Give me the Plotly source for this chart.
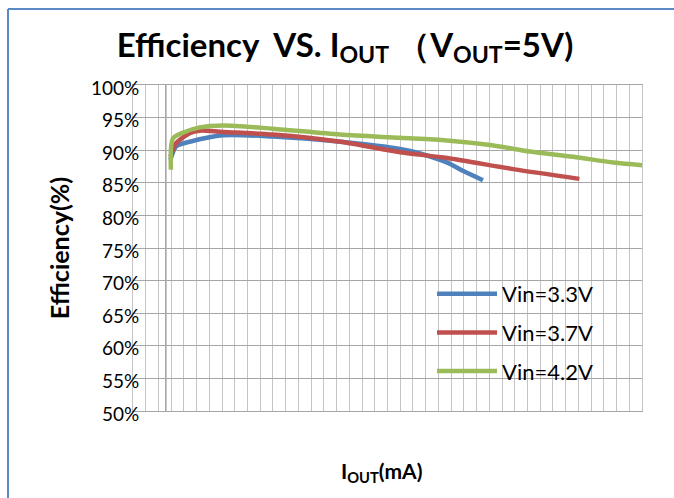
import plotly.graph_objects as go

# ---- data ----
series_names = ["Vin=3.3V", "Vin=3.7V", "Vin=4.2V"]
series_colors = ["#4F81BD", "#C0504D", "#9BBB59"]

iout_33 = [147, 170, 223, 354, 550, 815, 1050, 1128, 1235, 1298, 1375]
eff_33 = [88.5, 90.6, 91.3, 92.3, 92.1, 91.3, 90.2, 89.5, 88.1, 86.8, 85.4]

iout_37 = [147, 170, 223, 262, 354, 550, 815, 1050, 1235, 1494, 1754]
eff_37 = [89.0, 91.1, 92.6, 93.0, 92.8, 92.4, 91.3, 89.7, 88.8, 87.1, 85.6]

iout_42 = [149, 157, 197, 262, 354, 550, 813, 1049, 1233, 1403, 1560, 1730, 1888, 2000]
eff_42 = [87.0, 91.8, 92.7, 93.5, 93.8, 93.3, 92.4, 91.9, 91.5, 90.8, 89.8, 89.0, 88.1, 87.7]

y_ticks = [50, 55, 60, 65, 70, 75, 80, 85, 90, 95, 100]
y_ticklabels = [f"{v}%" for v in y_ticks]

xs = [iout_33, iout_37, iout_42]
ys = [eff_33, eff_37, eff_42]

FONT = "Lato"
W, H = 674, 498
L, R, T, B = 133, 32, 85, 87

fig = go.Figure()
for i, (name, col) in enumerate(zip(series_names, series_colors)):
    fig.add_trace(go.Scatter(
        x=xs[i], y=ys[i], name=name, mode="lines",
        line=dict(color=col, width=4.5, shape="spline", smoothing=0.8),
        legendgroup=name,
    ))

pw = W - L - R
ph = H - T - B


def px_x(px):
    return (px - L) / pw


def px_y(py):
    return (H - B - py) / ph


shapes = [
    # outer blue frame (left and top edges)
    dict(type="line", xref="paper", yref="paper", x0=px_x(8), x1=px_x(8),
         y0=px_y(9), y1=px_y(H + 5), line=dict(color="#5A8AC6", width=2)),
    dict(type="line", xref="paper", yref="paper", x0=px_x(8), x1=px_x(W + 5),
         y0=px_y(9), y1=px_y(9), line=dict(color="#5A8AC6", width=2)),
    # vertical axis line crossing inside the plot area
    dict(type="line", xref="x", yref="paper", x0=129, x1=129, y0=0, y1=1,
         line=dict(color="#A0A0A0", width=1.5), layer="below"),
]

fig.update_layout(
    width=W, height=H,
    margin=dict(l=L, r=R, t=T, b=B, autoexpand=False),
    paper_bgcolor="white", plot_bgcolor="white",
    font=dict(family=FONT, color="#000000"),
    title=dict(
        text="<b>Efficiency  VS. I<sub>OUT</sub> （V<sub>OUT</sub>=5V)</b>",
        x=345 / W, xanchor="center", y=1 - 45 / H, yanchor="middle",
        xref="container", yref="container",
        font=dict(family=FONT, size=33, color="#000000"),
    ),
    showlegend=True,
    legend=dict(
        x=px_x(432), y=px_y(273), xanchor="left", yanchor="top",
        bgcolor="rgba(0,0,0,0)", font=dict(family=FONT, size=22, color="#000000"),
        tracegroupgap=7, itemwidth=60,
    ),
    shapes=shapes,
    annotations=[dict(
        text="<b>I<sub>OUT</sub>(mA)</b>", xref="paper", yref="paper",
        x=px_x(381), y=px_y(472), xanchor="center", yanchor="middle",
        showarrow=False, font=dict(family=FONT, size=21, color="#000000"),
    )],
    xaxis=dict(
        range=[0, 2000], dtick=50, tick0=0, automargin=False,
        showgrid=True, gridcolor="#C4C4C4", gridwidth=1,
        showticklabels=False, ticks="", zeroline=False,
        showline=True, linecolor="#A6A6A6", linewidth=1, mirror=True,
    ),
    yaxis=dict(
        range=[50, 100], tickvals=y_ticks, ticktext=y_ticklabels, automargin=False,
        showgrid=True, gridcolor="#A6A6A6", gridwidth=1,
        ticks="", zeroline=False,
        showline=True, linecolor="#C4C4C4", linewidth=1, mirror=True,
        tickfont=dict(family=FONT, size=19, color="#000000"),
        ticklabelstandoff=-11, ticklabelshift=3,
        title=dict(text="<b>Efficiency(%)</b>", font=dict(family=FONT, size=25),
                   standoff=14),
    ),
)

fig.write_html("out.html", config={"displayModeBar": False},
               post_script="document.body.style.margin='0px';")
